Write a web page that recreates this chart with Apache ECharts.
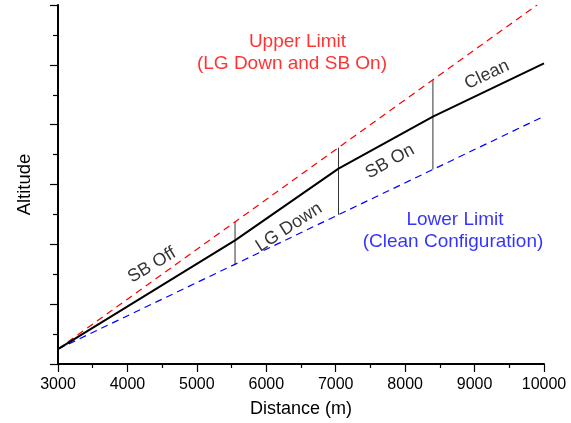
<!DOCTYPE html>
<html><head><meta charset="utf-8">
<script src="https://cdn.jsdelivr.net/npm/echarts@6/dist/echarts.min.js"></script>
<style>html,body{margin:0;padding:0;background:#fff}#c{width:571px;height:423px}</style>
</head><body><div id="c"></div>
<script>
// Data (distance in m, altitude in arbitrary units)
const xTicks = [3000, 4000, 5000, 6000, 7000, 8000, 9000, 10000];
const flightPath = [[3000, 0.5], [5550, 4.13], [7040, 6.53], [8400, 8.27], [10000, 10.05]];
const upperLimit = [[3000, 0.5], [9900, 12.0]];
const lowerLimit = [[3000, 0.5], [10000, 8.28]];
const phaseBreaks = [5550, 7040, 8400];
const phaseUpper = [4.75, 7.23, 9.5];
const phaseLower = [3.33, 4.99, 6.5];
const phaseLabels = [
  {text: 'SB Off', x: 4354, y: 3.3, rot: 31},
  {text: 'LG Down', x: 6327, y: 4.57, rot: 33},
  {text: 'SB On', x: 7782, y: 6.77, rot: 29},
  {text: 'Clean', x: 9179, y: 9.67, rot: 25}
];
const limitLabels = [
  {text: 'Upper Limit', x: 6449, y: 10.77, color: '#ff0000'},
  {text: '(LG Down and SB On)', x: 6370, y: 10.03, color: '#ff0000'},
  {text: 'Lower Limit', x: 8718, y: 4.83, color: '#0000ff'},
  {text: '(Clean Configuration)', x: 8689, y: 4.07, color: '#0000ff'}
];

const font = 'Liberation Sans, Arial, sans-serif';
const vSeries = phaseBreaks.map((d, i) => ({
  type: 'line', data: [[d, phaseUpper[i]], [d, phaseLower[i]]],
  symbol: 'none', lineStyle: {color: '#333', width: 1}, silent: true, z: 2
}));

const chart = echarts.init(document.getElementById('c'), null, {renderer: 'canvas'});
chart.setOption({
  animation: false,
  grid: {left: 58, right: 27, top: 5, bottom: 58},
  xAxis: {
    type: 'value', min: 3000, max: 10000, interval: 1000,
    name: 'Distance (m)', nameLocation: 'middle', nameGap: 36,
    nameTextStyle: {fontFamily: font, fontSize: 18, color: '#000'},
    axisLine: {lineStyle: {color: '#000', width: 2}},
    axisTick: {length: 8, lineStyle: {color: '#000', width: 1.2}},
    minorTick: {show: true, splitNumber: 2, length: 4, lineStyle: {color: '#000', width: 1.2}},
    splitLine: {show: false},
    axisLabel: {fontFamily: font, fontSize: 16, color: '#000', margin: 13,
      formatter: v => xTicks.includes(v) ? String(v) : ''}
  },
  yAxis: {
    type: 'value', min: 0, max: 12, interval: 2,
    name: 'Altitude', nameLocation: 'middle', nameGap: 24,
    nameTextStyle: {fontFamily: font, fontSize: 18.5, color: '#000'},
    axisLine: {show: true, lineStyle: {color: '#000', width: 2}},
    axisTick: {show: true, length: 8, lineStyle: {color: '#000', width: 1.2}},
    minorTick: {show: true, splitNumber: 2, length: 5, lineStyle: {color: '#000', width: 1.2}},
    splitLine: {show: false},
    axisLabel: {show: false}
  },
  series: [
    {type: 'line', data: upperLimit, symbol: 'none',
      lineStyle: {color: '#ff0000', width: 1.2, type: [7, 5]}, z: 3},
    {type: 'line', data: lowerLimit, symbol: 'none',
      lineStyle: {color: '#0000ff', width: 1.2, type: [7, 5]}, z: 3},
    ...vSeries,
    {type: 'line', data: flightPath, symbol: 'none',
      lineStyle: {color: '#000', width: 2}, z: 4},
    {type: 'scatter', symbolSize: 0, silent: true,
      data: phaseLabels.map(p => ({value: [p.x, p.y], label: {formatter: p.text, rotate: p.rot}})),
      label: {show: true, position: 'inside', fontFamily: font, fontSize: 18, color: '#000'}},
    {type: 'scatter', symbolSize: 0, silent: true,
      data: limitLabels.map(p => ({value: [p.x, p.y], label: {formatter: p.text, color: p.color}})),
      label: {show: true, position: 'inside', fontFamily: font, fontSize: 19}}
  ]
});
</script></body></html>
